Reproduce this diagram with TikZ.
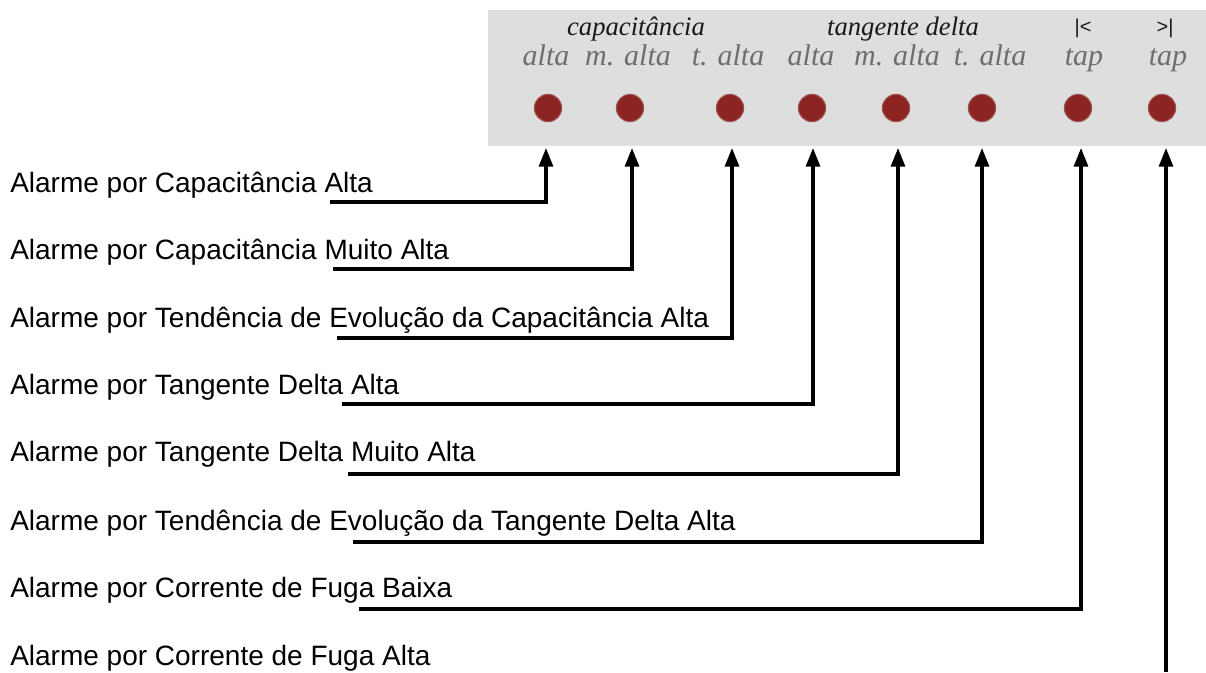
\documentclass[tikz,border=0pt]{standalone}
\usepackage{fontspec}
\usepackage{tikz}
\usetikzlibrary{arrows.meta, positioning}
\newfontfamily\labelfont{Liberation Sans}
\newfontfamily\panelfont{Liberation Serif}
\definecolor{panelgray}{RGB}{222,222,222}
\definecolor{ledred}{RGB}{140,36,36}
\definecolor{subgray}{RGB}{110,110,110}

\begin{document}
\begin{tikzpicture}[x=0.75pt, y=-0.75pt,
    led/.style={circle, fill=ledred, draw=ledred!75!panelgray, line width=0.8pt, minimum size=20.5pt, inner sep=0pt},
    head/.style={anchor=base, inner sep=0pt, font=\panelfont\fontsize{20}{23}\selectfont\itshape, text=black!90},
    sub/.style={anchor=base, inner sep=0pt, font=\panelfont\fontsize{22.5}{25}\selectfont\itshape, text=subgray},
    tapmark/.style={anchor=base, inner sep=0pt, font=\labelfont\fontsize{15}{17}\selectfont, text=black!90},
    alarm/.style={anchor=base west, inner sep=0pt, font=\labelfont\fontsize{21}{24}\selectfont},
    feed/.style={line width=2.3pt, -{Triangle[length=14pt, width=10.5pt]}}]
    \useasboundingbox (0,0) rectangle (1206,672);
    % painel
    \fill[panelgray] (488,10) rectangle (1206,146);
    \node[head] (hcap) at (636,35) {capacitância};
    \node[head] (htan) at (903,35) {tangente delta};
    \node[tapmark] (hlow) at (1083,33) {|<};
    \node[tapmark] (hhigh) at (1165,33) {>|};
    \foreach \x/\sx/\ax/\txt [count=\i] in {548/546/546/alta, 630/628/632/m. alta, 730/728/732/t. alta,
            812/811/813/alta, 896/897/898/m. alta, 982/990/982/t. alta, 1078/1084/1081/tap, 1162/1168/1166/tap} {
        \node[sub] (sub\i) at (\sx,65) {\txt};
        \node[led] (led\i) at (\x,108) {};
        \coordinate (tip\i) at (\ax,148);
    }
    % alarmes
    \foreach \y/\txt [count=\i] in {192/Alarme por Capacitância Alta,
            259/Alarme por Capacitância Muito Alta,
            327/Alarme por Tendência de Evolução da Capacitância Alta,
            394/Alarme por Tangente Delta Alta,
            461/Alarme por Tangente Delta Muito Alta,
            530/Alarme por Tendência de Evolução da Tangente Delta Alta,
            597/Alarme por Corrente de Fuga Baixa,
            665/Alarme por Corrente de Fuga Alta} {
        \node[alarm] (lab\i) at (10,\y) {\txt};
    }
    \foreach \i/\sx/\ly in {1/330/202, 2/333/269, 3/337/338, 4/342/404,
            5/348/474, 6/353/542, 7/359/609, 8/1166/672} {
        \draw[feed] (\sx,\ly) coordinate (s\i) -| (tip\i);
    }
\end{tikzpicture}
\end{document}
